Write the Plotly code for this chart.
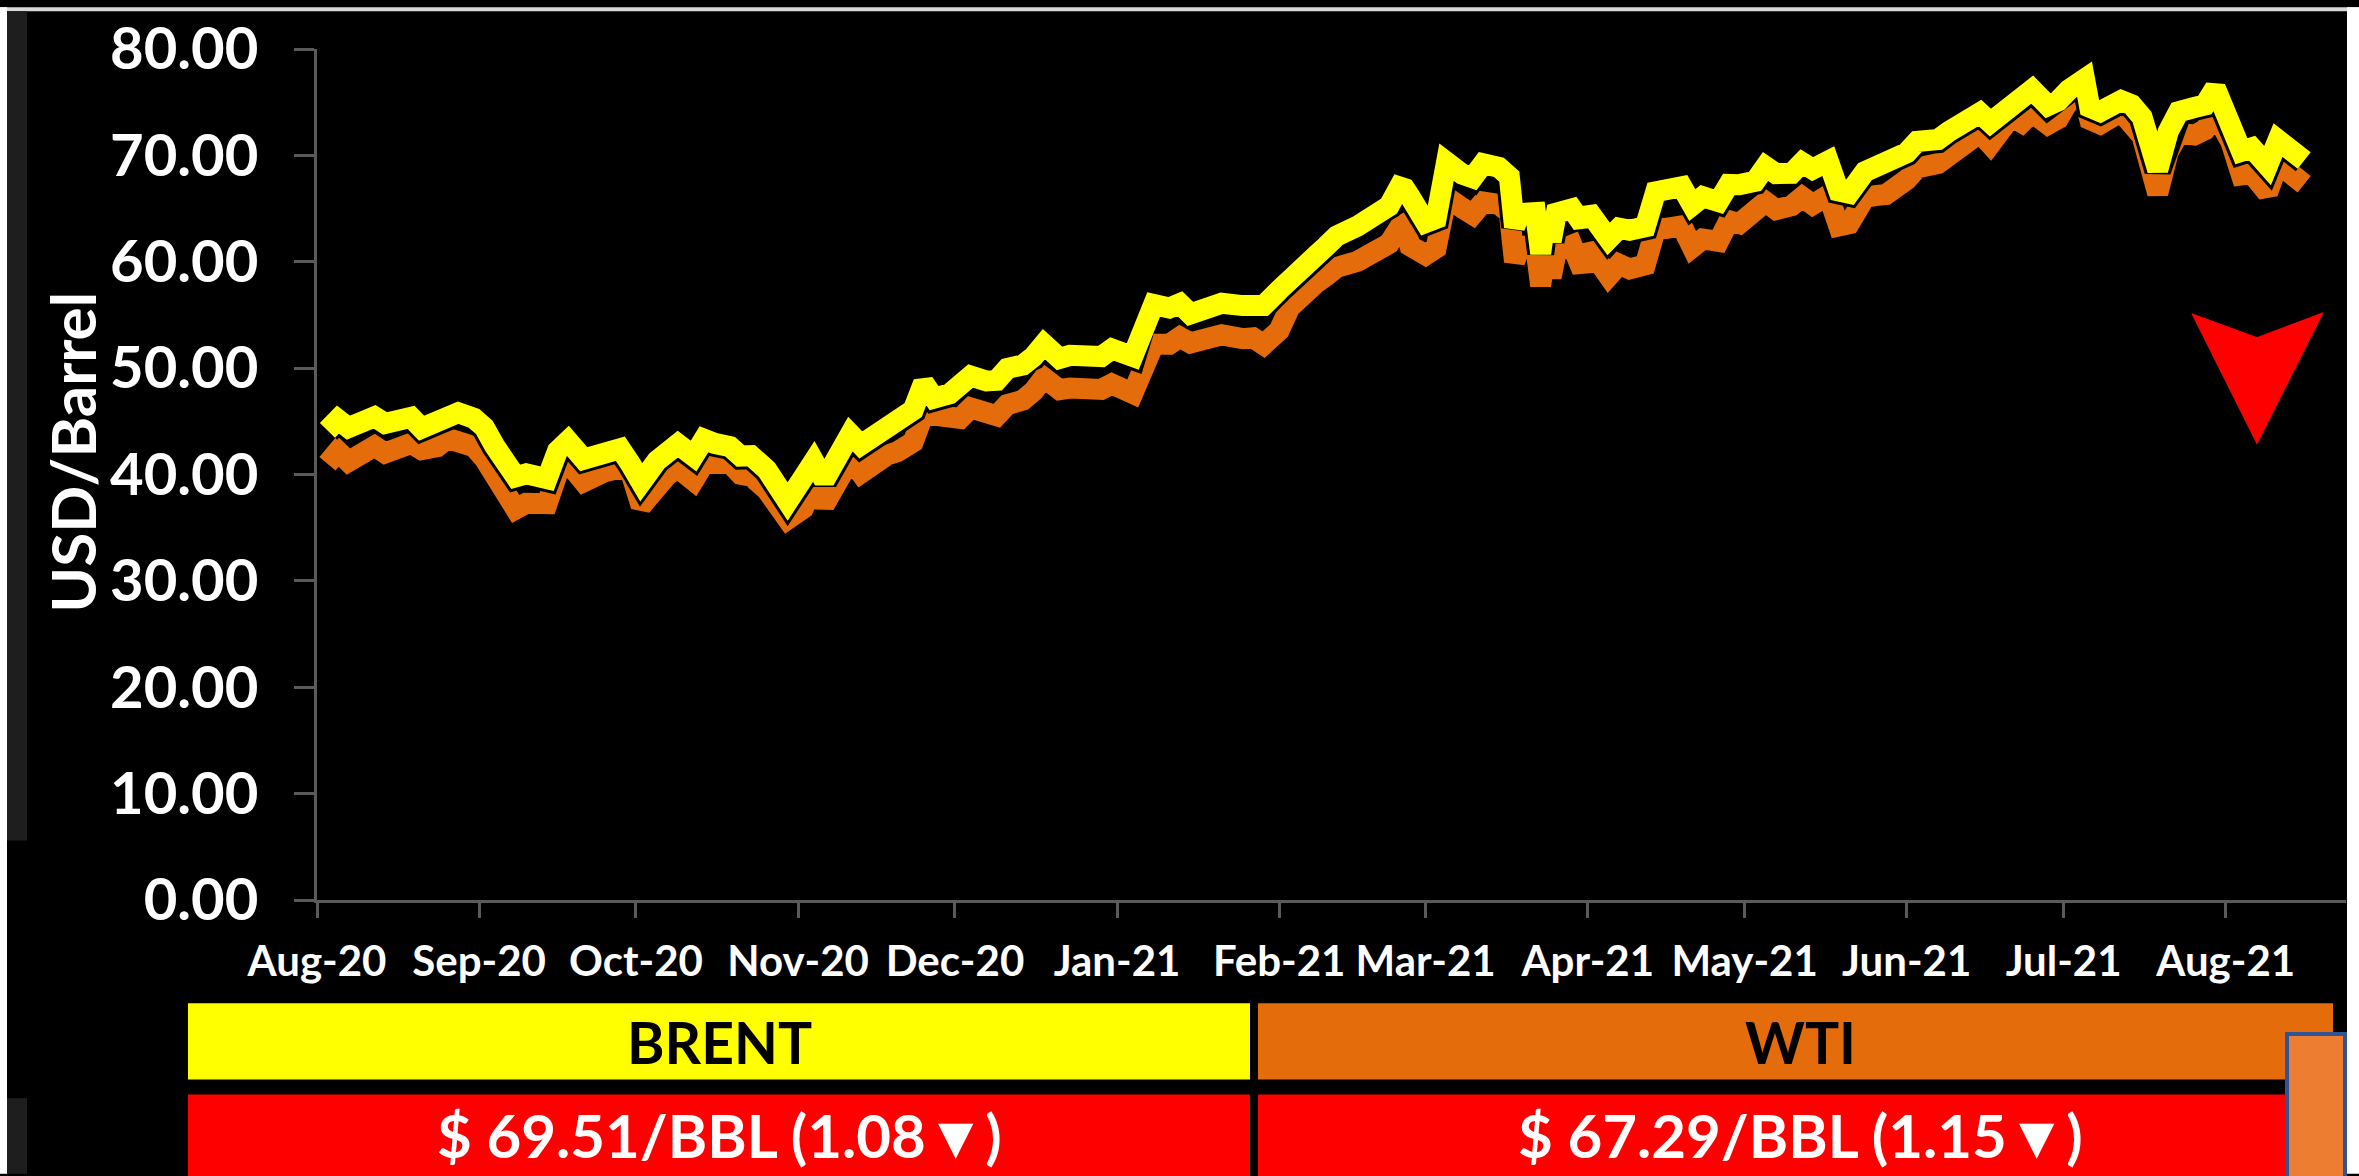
import plotly.graph_objects as go

# ---------------- data ----------------
dates = [
    "2020-08-03", "2020-08-05", "2020-08-07", "2020-08-10", "2020-08-12", "2020-08-14", "2020-08-17",
    "2020-08-19", "2020-08-21", "2020-08-24", "2020-08-26", "2020-08-28", "2020-08-31",
    "2020-09-02", "2020-09-04", "2020-09-08", "2020-09-10", "2020-09-14", "2020-09-16", "2020-09-18",
    "2020-09-21", "2020-09-23", "2020-09-25", "2020-09-28", "2020-09-30",
    "2020-10-02", "2020-10-05", "2020-10-07", "2020-10-09", "2020-10-12", "2020-10-14", "2020-10-16",
    "2020-10-19", "2020-10-21", "2020-10-23", "2020-10-26", "2020-10-28", "2020-10-30",
    "2020-11-02", "2020-11-04", "2020-11-06", "2020-11-09", "2020-11-11", "2020-11-13", "2020-11-16",
    "2020-11-18", "2020-11-20", "2020-11-23", "2020-11-25", "2020-11-27", "2020-11-30",
    "2020-12-02", "2020-12-04", "2020-12-07", "2020-12-09", "2020-12-11", "2020-12-14", "2020-12-16",
    "2020-12-18", "2020-12-21", "2020-12-23", "2020-12-29", "2020-12-31",
    "2021-01-04", "2021-01-06", "2021-01-08", "2021-01-11", "2021-01-13", "2021-01-15", "2021-01-19",
    "2021-01-21", "2021-01-25", "2021-01-27", "2021-01-29",
    "2021-02-01", "2021-02-03", "2021-02-05", "2021-02-08", "2021-02-10", "2021-02-12", "2021-02-16",
    "2021-02-18", "2021-02-22", "2021-02-24", "2021-02-25", "2021-02-26",
    "2021-03-01", "2021-03-03", "2021-03-05", "2021-03-08", "2021-03-10", "2021-03-12", "2021-03-15",
    "2021-03-17", "2021-03-18", "2021-03-19", "2021-03-22", "2021-03-23", "2021-03-24", "2021-03-25",
    "2021-03-26", "2021-03-29", "2021-03-31",
    "2021-04-01", "2021-04-05", "2021-04-07", "2021-04-09", "2021-04-12", "2021-04-14", "2021-04-16",
    "2021-04-19", "2021-04-21", "2021-04-23", "2021-04-26", "2021-04-28", "2021-04-30",
    "2021-05-03", "2021-05-05", "2021-05-07", "2021-05-10", "2021-05-12", "2021-05-14", "2021-05-17",
    "2021-05-19", "2021-05-21", "2021-05-24", "2021-05-26", "2021-05-28",
    "2021-06-01", "2021-06-03", "2021-06-07", "2021-06-09", "2021-06-11", "2021-06-15", "2021-06-17",
    "2021-06-21", "2021-06-23", "2021-06-25", "2021-06-28", "2021-06-30",
    "2021-07-02", "2021-07-05", "2021-07-06", "2021-07-08", "2021-07-12", "2021-07-14", "2021-07-16",
    "2021-07-19", "2021-07-21", "2021-07-23", "2021-07-26", "2021-07-28", "2021-07-30",
    "2021-08-02", "2021-08-04", "2021-08-06", "2021-08-09", "2021-08-11", "2021-08-13", "2021-08-16",
]

brent = [
    44.15, 45.17, 44.40, 44.99, 45.43, 44.80, 45.37, 45.37, 44.35, 45.13, 45.64, 45.81, 45.28,
    44.43, 42.66, 39.78, 40.06, 39.61, 42.22, 43.15, 41.44, 41.77, 41.92, 42.43, 40.95,
    39.27, 41.29, 41.99, 42.85, 41.72, 43.32, 42.93, 42.62, 41.73, 41.77, 40.46, 39.12, 37.46,
    39.71, 41.23, 39.45, 42.40, 43.80, 42.78, 43.82, 44.34, 44.96, 46.06, 48.61, 47.18, 47.59,
    48.25, 49.25, 48.79, 48.86, 49.97, 50.29, 51.08, 52.26, 50.91, 51.20, 51.09, 51.80,
    51.09, 54.30, 55.99, 55.66, 56.06, 55.10, 55.90, 56.10, 55.88, 55.81, 55.88,
    57.35, 58.46, 59.34, 60.56, 61.47, 62.43, 63.35, 63.93, 65.24, 67.04, 66.88, 66.13,
    63.69, 64.07, 69.36, 68.24, 67.90, 69.22, 68.88, 68.00, 63.28, 64.53, 64.62, 60.79, 64.41, 61.95,
    64.57, 64.98, 63.54,
    64.86, 62.15, 63.16, 62.95, 63.28, 66.58, 66.77, 67.05, 65.32, 66.11, 65.65, 67.27, 67.25,
    67.56, 68.96, 68.28, 68.32, 69.32, 68.71, 69.46, 66.66, 66.44, 68.46, 68.87, 69.63,
    70.25, 71.31, 71.49, 72.22, 72.69, 73.99, 73.08, 74.90, 75.19, 76.18, 74.68, 75.13,
    76.17, 77.16, 74.53, 74.12, 75.16, 74.76, 73.59, 68.62, 72.23, 74.10, 74.50, 74.74, 76.33,
    72.89, 70.38, 70.70, 69.04, 71.44, 70.59, 69.51,
]

wti = [
    41.01, 42.19, 41.22, 41.94, 42.67, 42.01, 42.89, 42.93, 42.34, 42.62, 43.39, 42.97, 42.61,
    41.51, 39.77, 36.76, 37.30, 37.26, 40.16, 41.11, 39.31, 39.93, 40.25, 40.60, 40.22,
    37.05, 39.22, 39.95, 40.60, 39.43, 41.04, 40.88, 41.06, 40.03, 39.85, 38.56, 37.39, 35.79,
    36.81, 39.15, 37.14, 40.29, 41.45, 40.13, 41.34, 41.82, 42.15, 43.06, 45.71, 45.53, 45.34,
    45.28, 46.26, 45.76, 45.52, 46.57, 46.99, 47.82, 49.10, 47.97, 48.12, 48.00, 48.52,
    47.62, 50.63, 52.24, 52.25, 52.91, 52.36, 52.98, 53.13, 52.77, 52.85, 52.20,
    53.55, 55.69, 56.85, 57.97, 58.68, 59.47, 60.05, 60.52, 61.70, 63.22, 63.53, 61.50,
    60.64, 61.28, 66.09, 65.05, 64.44, 65.61, 65.39, 64.60, 60.00, 61.42, 61.55, 57.76, 61.18, 58.56,
    60.97, 61.56, 59.16,
    61.45, 58.65, 59.77, 59.32, 59.70, 63.15, 63.13, 63.38, 61.35, 62.14, 61.91, 63.86, 63.58,
    64.49, 65.63, 64.90, 65.28, 66.08, 65.37, 66.27, 63.36, 63.58, 66.05, 66.21, 66.32,
    67.72, 68.81, 69.23, 70.00, 70.91, 72.12, 71.04, 73.66, 73.08, 74.05, 72.91, 73.47,
    75.16, 75.40, 73.37, 72.94, 74.10, 73.13, 71.81, 66.42, 70.30, 72.07, 71.91, 72.39, 73.95,
    71.26, 68.15, 68.28, 66.48, 69.25, 68.44, 67.29,
]

y_ticks = [0, 10, 20, 30, 40, 50, 60, 70, 80]
brent_label = "BRENT"
wti_label = "WTI"
brent_price = "$ 69.51/BBL (1.08\u25BC)"
wti_price = "$ 67.29/BBL (1.15\u25BC)"

# ---------------- layout geometry (pixels) ----------------
W, H = 2359, 1176
PL, PR, PT, PB = 317, 2346, 42, 900
FONT = "Lato, 'Open Sans', 'Liberation Sans', sans-serif"
GRAY = "#5a5a5a"


def px(x):
    return (x - PL) / (PR - PL)


def py(y):
    return (PB - y) / (PB - PT)


def rect(x0, y0, x1, y1, fill, line_color=None, line_width=0):
    return dict(type="rect", xref="paper", yref="paper",
                x0=px(x0), x1=px(x1), y0=py(y1), y1=py(y0),
                fillcolor=fill, line=dict(color=line_color or fill, width=line_width),
                layer="above")


fig = go.Figure()

for vals, col in ((wti, "#E46C0A"), (brent, "#FFFF00")):
    fig.add_trace(go.Scatter(x=dates, y=vals, mode="lines",
                             line=dict(color="black", width=27),
                             hoverinfo="skip", showlegend=False))
    fig.add_trace(go.Scatter(x=dates, y=vals, mode="lines",
                             line=dict(color=col, width=21),
                             showlegend=False))

shapes = [
    # frame artefacts
    rect(0, 0, W, 4, "#d9d9d9"),
    rect(0, 0, 7, H, "#ffffff"),
    rect(7, 4, 27, 840, "#1e1e1e"),
    rect(7, 1100, 27, H, "#1e1e1e"),
    rect(2347, 0, W, H, "#ffffff"),
    # label bars
    rect(188, 1004, 1250, 1081, "#FFFF00"),
    rect(1258, 1004, 2333, 1081, "#E46C0A"),
    rect(188, 1096, 1250, H + 5, "#FF0000"),
    rect(1258, 1096, 2333, H + 5, "#FF0000"),
    rect(2287, 1035, 2345, H + 10, "#ED7D31", "#2F5597", 4),
]

# red down arrowhead
pts = [(2192, 309), (2257, 333), (2323, 308), (2257, 440)]
path = "M " + " L ".join(f"{px(x):.5f},{py(y):.5f}" for x, y in pts) + " Z"
shapes.append(dict(type="path", xref="paper", yref="paper", path=path,
                   fillcolor="#FF0000", line=dict(color="#FF0000", width=1), layer="above"))

annotations = [
    dict(text="USD/Barrel", x=px(72), y=py(449), xref="paper", yref="paper",
         textangle=-90, showarrow=False, xanchor="center", yanchor="middle",
         font=dict(family=FONT, size=62, color="white", weight="bold")),
    dict(text=brent_label, x=px(719), y=py(1043), xref="paper", yref="paper",
         showarrow=False, xanchor="center", yanchor="middle",
         font=dict(family=FONT, size=57, color="black", weight="bold")),
    dict(text=wti_label, x=px(1800), y=py(1043), xref="paper", yref="paper",
         showarrow=False, xanchor="center", yanchor="middle",
         font=dict(family=FONT, size=57, color="black", weight="bold")),
    dict(text=brent_price, x=px(719), y=py(1137), xref="paper", yref="paper",
         showarrow=False, xanchor="center", yanchor="middle",
         font=dict(family=FONT, size=60, color="white", weight="bold")),
    dict(text=wti_price, x=px(1800), y=py(1137), xref="paper", yref="paper",
         showarrow=False, xanchor="center", yanchor="middle",
         font=dict(family=FONT, size=60, color="white", weight="bold")),
]

fig.update_layout(
    width=W, height=H,
    margin=dict(l=PL, r=W - PR, t=PT, b=H - PB, pad=0),
    paper_bgcolor="black", plot_bgcolor="black",
    shapes=shapes, annotations=annotations,
    showlegend=False,
    xaxis=dict(type="date", range=["2020-08-01", "2021-08-24"],
               tick0="2020-08-01", dtick="M1", tickformat="%b-%y",
               showgrid=False, zeroline=False,
               showline=True, linecolor=GRAY, linewidth=3,
               ticks="outside", ticklen=15, tickwidth=3, tickcolor=GRAY,
               ticklabelstandoff=8,
               tickfont=dict(family=FONT, size=42, color="white", weight="bold")),
    yaxis=dict(range=[0, 80], tickvals=y_ticks, tickformat=".2f",
               showgrid=False, zeroline=False,
               showline=True, linecolor=GRAY, linewidth=3,
               ticks="outside", ticklen=20, tickwidth=3, tickcolor=GRAY,
               ticklabelstandoff=24,
               tickfont=dict(family=FONT, size=58, color="white", weight="bold")),
)

fig.write_html("out.html", config={"displayModeBar": False},
               post_script="document.body.style.margin='0';document.body.style.overflow='hidden';")
